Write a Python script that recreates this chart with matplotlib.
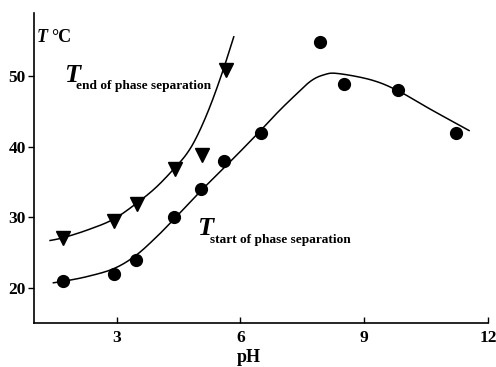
import matplotlib
matplotlib.use("Agg")
import matplotlib.pyplot as plt
import numpy as np

# Measured points
ph_start = [1.70, 2.93, 3.47, 4.40, 5.05, 5.61, 6.49, 7.92, 8.52, 9.81, 11.22]
t_start = [20.9, 22.0, 24.0, 30.0, 34.0, 38.0, 42.0, 54.9, 48.9, 48.0, 42.0]
ph_end = [1.71, 2.93, 3.49, 4.42, 5.08, 5.64]
t_end = [27.0, 29.4, 31.9, 36.8, 38.9, 50.9]

# Fitted curves
curve_end_x = [1.39, 1.71, 2.30, 2.92, 3.49, 3.95, 4.38, 4.70, 4.95, 5.25, 5.56, 5.84]
curve_end_y = [26.7, 27.1, 28.2, 29.7, 32.0, 34.2, 36.8, 39.0, 41.5, 45.5, 50.5, 55.6]
curve_start_x = [1.47, 1.71, 2.30, 2.93, 3.45, 3.95, 4.42, 5.07, 5.84, 6.44, 6.89, 7.29,
                 7.70, 8.02, 8.35, 9.16, 9.80, 10.61, 11.54]
curve_start_y = [20.7, 20.9, 21.6, 22.7, 24.5, 27.1, 29.9, 33.9, 38.4, 42.0, 44.8, 47.1,
                 49.3, 50.2, 50.4, 49.5, 48.0, 45.3, 42.3]

x_ticks = [3, 6, 9, 12]
y_ticks = [20, 30, 40, 50]


def smooth(xs, ys, n=20):
    """Catmull-Rom rendering through the read curve points."""
    p = np.column_stack([xs, ys])
    p = np.vstack([p[0], p, p[-1]])
    out = []
    t = np.linspace(0, 1, n, endpoint=False)[:, None]
    for i in range(1, len(p) - 2):
        p0, p1, p2, p3 = p[i - 1], p[i], p[i + 1], p[i + 2]
        seg = 0.5 * ((2 * p1) + (-p0 + p2) * t + (2 * p0 - 5 * p1 + 4 * p2 - p3) * t ** 2
                     + (-p0 + 3 * p1 - 3 * p2 + p3) * t ** 3)
        out.append(seg)
    out.append(p[-2][None, :])
    out = np.vstack(out)
    return out[:, 0], out[:, 1]


plt.rcParams['font.family'] = ['Liberation Serif', 'DejaVu Serif']

fig = plt.figure(figsize=(4.96, 3.67), dpi=100)
ax = fig.add_axes([0.0685, 0.12, 0.9155, 0.845])

ex, ey = smooth(curve_end_x, curve_end_y)
sx, sy = smooth(curve_start_x, curve_start_y)
ax.plot(ex, ey, color='black', lw=1.1)
ax.plot(sx, sy, color='black', lw=1.1)
ax.plot(ph_end, t_end, linestyle='none', marker='v', color='black', markersize=9.5)
ax.plot(ph_start, t_start, linestyle='none', marker='o', color='black', markersize=8.5)

ax.set_xlim(1, 12)
ax.set_ylim(15, 59)
ax.set_xticks(x_ticks)
ax.set_yticks(y_ticks)
for lab in ax.get_xticklabels() + ax.get_yticklabels():
    lab.set_fontweight('bold')
    lab.set_fontsize(12.5)
ax.tick_params(axis='x', direction='in', length=4.5, width=1, pad=5)
ax.tick_params(axis='y', direction='out', length=4, width=1, pad=2)
for s in ['top', 'right']:
    ax.spines[s].set_visible(False)
for s in ['left', 'bottom']:
    ax.spines[s].set_linewidth(1.2)

ax.set_xlabel('pH', fontsize=13, fontweight='bold')
ax.xaxis.set_label_coords(0.474, -0.085)

ax.text(1.07, 54.9, 'T', fontsize=13, fontweight='bold', style='italic')
ax.text(1.42, 54.9, '°C', fontsize=13, fontweight='bold')

ax.text(1.73, 49.2, 'T', fontsize=19, fontweight='bold', style='italic')
ax.text(2.02, 48.2, 'end of phase separation', fontsize=9.6, fontweight='bold')
ax.text(4.96, 27.5, 'T', fontsize=19, fontweight='bold', style='italic')
ax.text(5.27, 26.4, 'start of phase separation', fontsize=9.6, fontweight='bold')

fig.savefig('out.png', dpi=100)
